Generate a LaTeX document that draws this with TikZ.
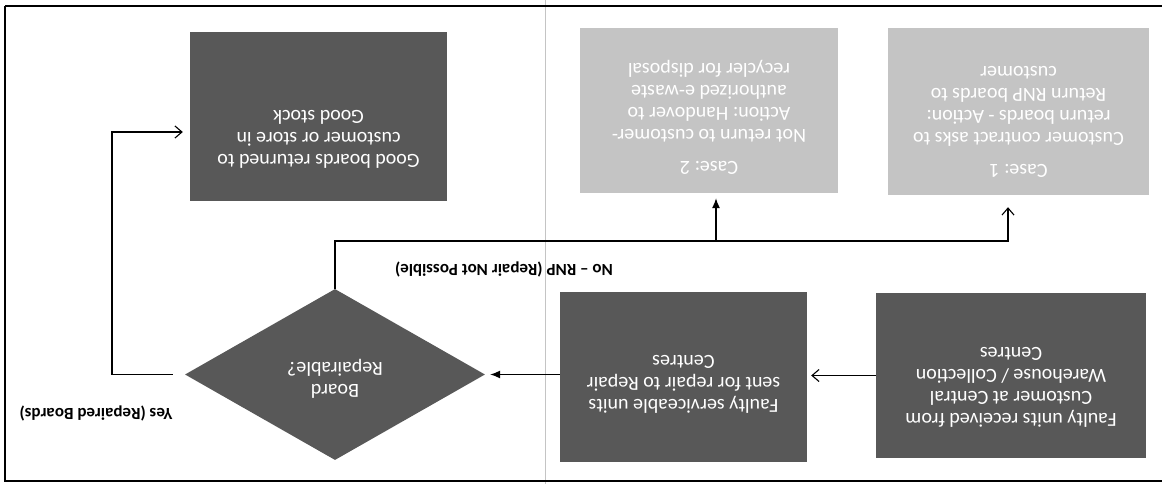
\documentclass[tikz,border=0pt]{standalone}
\usepackage{fontspec}
\setmainfont{Carlito}
\usepackage{graphicx}
\usetikzlibrary{arrows.meta, shapes.geometric, calc}
\definecolor{boxdark}{RGB}{88,88,88}
\definecolor{boxlight}{RGB}{196,196,196}
\newcommand{\upside}[2][0pt]
{%
	\raisebox{-#1}[\height][\depth]{\rotatebox[origin=c]{180}{\begin{tabular}{@{}c@{}}#2\end{tabular}}}%
}
\frenchspacing

\begin{document}
\begin{tikzpicture}[x=1pt, y=-1pt,
	box/.style={shape=rectangle, fill=boxdark, text=white, inner sep=0pt,
		font=\fontsize{20}{22}\selectfont},
	casebox/.style={box, fill=boxlight},
	decision/.style={box, shape=diamond},
	flowlabel/.style={inner sep=0pt, font=\fontsize{17}{20}\selectfont\bfseries},
	link/.style={line width=1.1pt},
	open/.style={link, -{Straight Barb[length=7pt,width=12pt]}},
	solidtip/.style={link, -{Latex[length=10pt,width=8pt]}}]

	\useasboundingbox (0,0) rectangle (1162,484);

	% scan frame and fold
	\draw[boxlight, line width=1pt] (545,0) -- (545,484);
	\draw[line width=2pt] (1162,6) -- (5,6);
	\draw[line width=1.5pt] (5,6) -- (5,481) -- (1162,481);

	\node[box, minimum width=270pt, minimum height=165pt] at (1011,375.5) (recv){\upside[9pt]{Faulty units received from\\Customer at Central\\Warehouse / Collection\\Centres}};
	\node[box, minimum width=247pt, minimum height=170pt] at (683.5,377) (serv){\upside[5pt]{Faulty serviceable units\\sent for repair to Repair\\Centres}};
	\node[decision, minimum width=300pt, minimum height=171pt] at (335,374.5) (board){\upside[3pt]{Board\\Repairable?}};
	\node[box, minimum width=257pt, minimum height=169pt] at (318.5,116.5) (good){\upside[20pt]{Good boards returned to\\customer or store in\\Good stock}};
	\node[casebox, minimum width=261pt, minimum height=167pt] at (1018.5,111.5) (case1){\upside[8pt]{Case: 1\\[10pt]Customer contract asks to\\return boards - Action:\\Return RNP boards to\\customer}};
	\node[casebox, minimum width=258pt, minimum height=165pt] at (709,110.5) (case2){\upside[6pt]{Case: 2\\[10pt]Not return to customer-\\Action: Handover to\\authorized e-waste\\recycler for disposal}};

	\node[flowlabel] at (96,412) (yes){\upside{Yes (Repaired Boards)}};
	\node[flowlabel] at (504,268) (no){\upside{No -- RNP (Repair Not Possible)}};

	\coordinate (yesturn) at (112,132);
	\coordinate (fork1) at (1008,241);
	\coordinate (fork2) at (716,241);

	\draw[open, shorten >=4pt] (recv.west) -- (recv.west -| serv.east);
	\draw[solidtip, shorten >=5pt] (board.east -| serv.west) -- (board.east);
	\draw[open, shorten <=12pt, shorten >=7pt] (board.west) -| (yesturn) -- (yesturn -| good.west);
	\draw[open, shorten >=12pt] (board.north) |- (fork1) -- (fork1 |- case1.south);
	\draw[solidtip, shorten >=5pt] (fork2) -- (fork2 |- case2.south);
\end{tikzpicture}
\end{document}
